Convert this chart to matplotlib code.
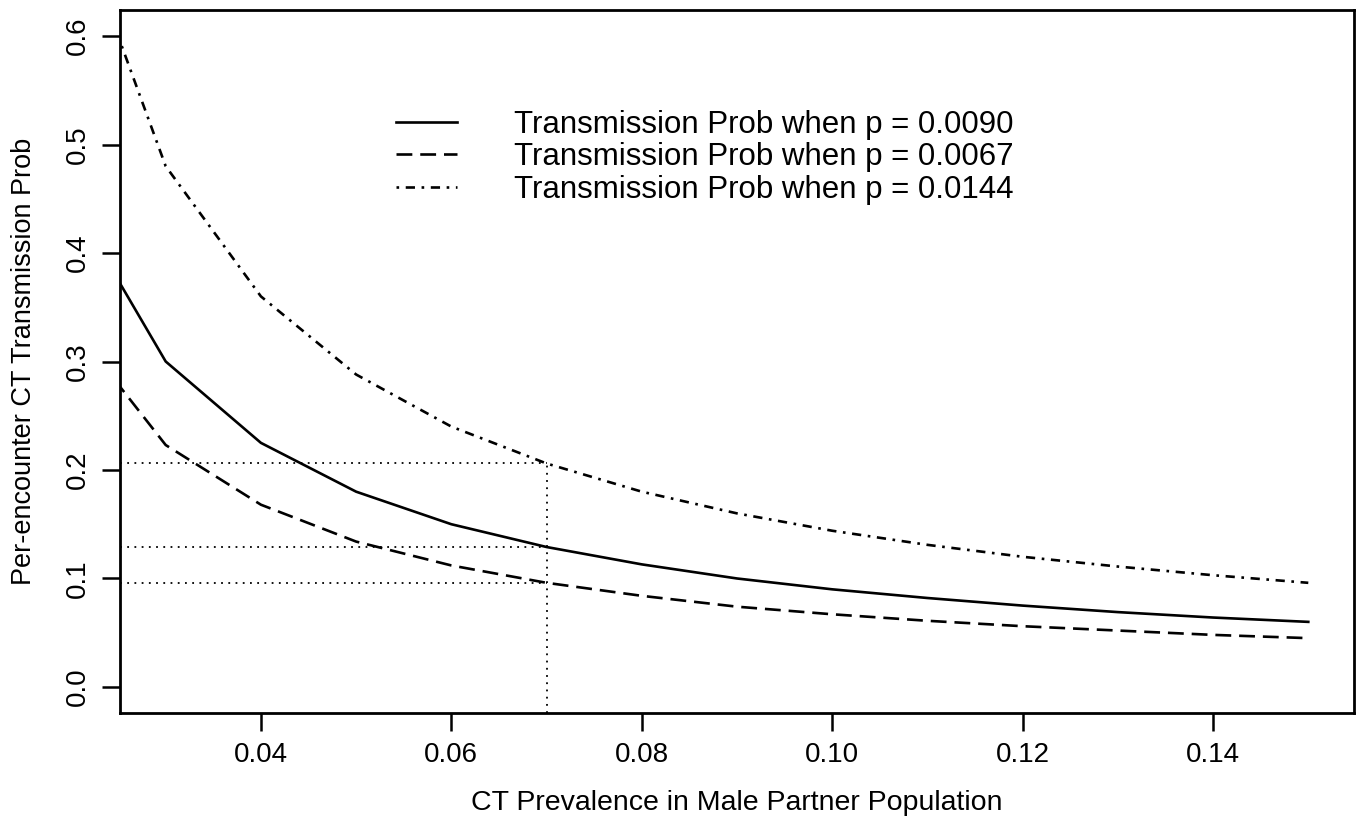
import matplotlib.pyplot as plt

plt.rcParams['font.family'] = ['Liberation Sans', 'DejaVu Sans']

# prevalence in male partner population
prevalence = [0.02, 0.03, 0.04, 0.05, 0.06, 0.07, 0.08, 0.09, 0.10, 0.11, 0.12, 0.13, 0.14, 0.15]
# per-encounter transmission prob
prob_0090 = [0.450, 0.300, 0.225, 0.180, 0.150, 0.129, 0.113, 0.100, 0.090, 0.082, 0.075, 0.069, 0.064, 0.060]
prob_0067 = [0.335, 0.223, 0.168, 0.134, 0.112, 0.096, 0.084, 0.074, 0.067, 0.061, 0.056, 0.052, 0.048, 0.045]
prob_0144 = [0.720, 0.480, 0.360, 0.288, 0.240, 0.206, 0.180, 0.160, 0.144, 0.131, 0.120, 0.111, 0.103, 0.096]

# reference point marked with dotted lines
ref_x = 0.07
ref_y = [0.206, 0.129, 0.096]

labels = ["Transmission Prob when p = 0.0090",
          "Transmission Prob when p = 0.0067",
          "Transmission Prob when p = 0.0144"]

fig = plt.figure(figsize=(13.62, 8.23), dpi=100)
ax = fig.add_axes([120 / 1362, 1 - 713 / 823, (1354 - 120) / 1362, (713 - 10) / 823])

lw = 1.9
ax.plot(prevalence, prob_0090, color="black", lw=lw, label=labels[0])
ax.plot(prevalence, prob_0067, color="black", lw=lw, linestyle=(0, (6, 3)), label=labels[1])
ax.plot(prevalence, prob_0144, color="black", lw=lw, linestyle=(0, (1, 2.5, 3.5, 2.5)), label=labels[2])

xmin = 0.0252
for y in ref_y:
    ax.plot([xmin, ref_x], [y, y], color="black", lw=1.3, linestyle=(0, (1, 3)))
ax.plot([ref_x, ref_x], [-0.024, ref_y[0]], color="black", lw=1.3, linestyle=(0, (1, 3)))

ax.set_xlim(xmin, 0.1548)
ax.set_ylim(-0.024, 0.624)
ax.set_xticks([0.04, 0.06, 0.08, 0.10, 0.12, 0.14])
ax.set_xticklabels(["0.04", "0.06", "0.08", "0.10", "0.12", "0.14"])
ax.set_yticks([0.0, 0.1, 0.2, 0.3, 0.4, 0.5, 0.6])
ax.set_yticklabels(["0.0", "0.1", "0.2", "0.3", "0.4", "0.5", "0.6"], rotation=90, va="center")
ax.tick_params(direction="out", length=13, width=1.8, labelsize=20, pad=8)
for s in ax.spines.values():
    s.set_linewidth(2)

ax.set_xlabel("CT Prevalence in Male Partner Population", fontsize=20.5, labelpad=16)
ax.set_ylabel("Per-encounter CT Transmission Prob", fontsize=19.5, labelpad=20)

ax.legend(loc="upper left", bbox_to_anchor=((380 - 120) / 1234, 1 - (94 - 10) / 703),
          frameon=False, fontsize=22.5, handlelength=1.95, handletextpad=1.85,
          labelspacing=0.08, borderpad=0)

fig.savefig("out.png", dpi=100)
